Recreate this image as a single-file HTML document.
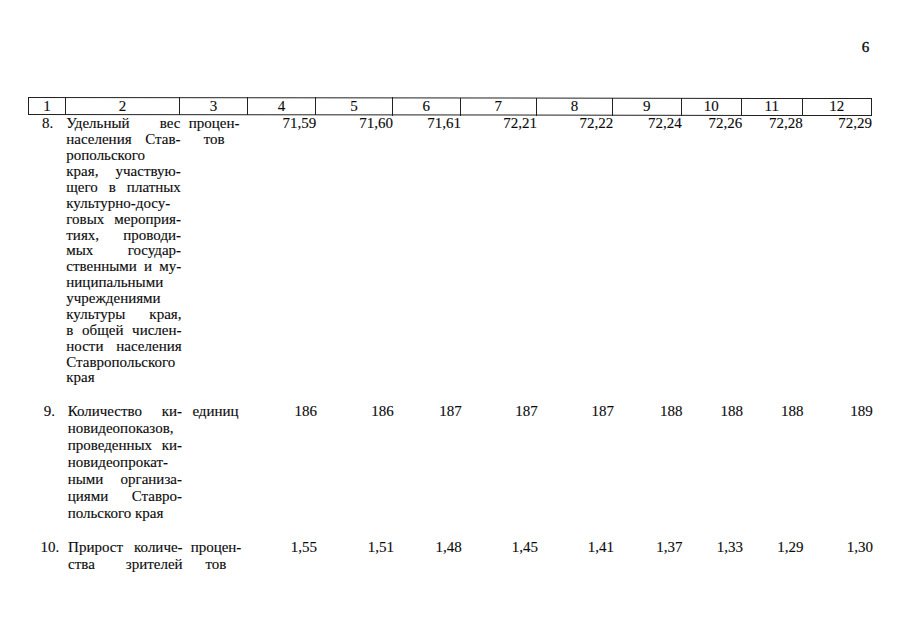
<!DOCTYPE html>
<html><head><meta charset="utf-8"><style>
html,body{margin:0;padding:0;background:#fff;}
body{width:900px;height:639px;position:relative;overflow:hidden;font-family:"Liberation Serif",serif;font-size:15px;color:#0a0a0a;-webkit-text-stroke:0.12px #0a0a0a;}
.a{position:absolute;white-space:nowrap;}
.pn{-webkit-text-stroke:0.35px #0a0a0a;}
.j{position:absolute;text-align:justify;text-align-last:justify;white-space:normal;}
.h{position:absolute;background:#222;}
</style></head><body>
<div class="a pn" style="left:861.8px;top:38.94px;line-height:16px">6</div>
<div class="h" style="left:28.2px;top:97.0px;width:843.7px;height:1.1px;transform-origin:0 0;transform:rotate(0.07deg)"></div>
<div class="h" style="left:28.2px;top:114.0px;width:843.7px;height:1.1px;transform-origin:0 0;transform:rotate(0.07deg)"></div>
<div class="h" style="left:28.2px;top:97.00px;width:1.1px;height:18.1px"></div>
<div class="h" style="left:64.8px;top:97.04px;width:1.1px;height:18.1px"></div>
<div class="h" style="left:179.0px;top:97.18px;width:1.1px;height:18.1px"></div>
<div class="h" style="left:247.0px;top:97.27px;width:1.1px;height:18.1px"></div>
<div class="h" style="left:315.1px;top:97.35px;width:1.1px;height:18.1px"></div>
<div class="h" style="left:391.9px;top:97.44px;width:1.1px;height:18.1px"></div>
<div class="h" style="left:459.8px;top:97.53px;width:1.1px;height:18.1px"></div>
<div class="h" style="left:535.9px;top:97.62px;width:1.1px;height:18.1px"></div>
<div class="h" style="left:612.0px;top:97.71px;width:1.1px;height:18.1px"></div>
<div class="h" style="left:680.5px;top:97.80px;width:1.1px;height:18.1px"></div>
<div class="h" style="left:741.0px;top:97.87px;width:1.1px;height:18.1px"></div>
<div class="h" style="left:801.5px;top:97.94px;width:1.1px;height:18.1px"></div>
<div class="h" style="left:870.9px;top:98.03px;width:1.1px;height:18.1px"></div>
<div class="a" style="left:17.00px;width:60px;text-align:center;top:98.14px;line-height:16px">1</div>
<div class="a" style="left:92.40px;width:60px;text-align:center;top:98.14px;line-height:16px">2</div>
<div class="a" style="left:183.50px;width:60px;text-align:center;top:98.14px;line-height:16px">3</div>
<div class="a" style="left:251.55px;width:60px;text-align:center;top:98.14px;line-height:16px">4</div>
<div class="a" style="left:324.00px;width:60px;text-align:center;top:98.14px;line-height:16px">5</div>
<div class="a" style="left:396.35px;width:60px;text-align:center;top:98.14px;line-height:16px">6</div>
<div class="a" style="left:468.35px;width:60px;text-align:center;top:98.14px;line-height:16px">7</div>
<div class="a" style="left:544.45px;width:60px;text-align:center;top:98.14px;line-height:16px">8</div>
<div class="a" style="left:616.75px;width:60px;text-align:center;top:98.14px;line-height:16px">9</div>
<div class="a" style="left:681.25px;width:60px;text-align:center;top:98.14px;line-height:16px">10</div>
<div class="a" style="left:741.75px;width:60px;text-align:center;top:98.14px;line-height:16px">11</div>
<div class="a" style="left:806.70px;width:60px;text-align:center;top:98.14px;line-height:16px">12</div>
<div class="a" style="left:41.90px;top:116.40px;line-height:15.88px">8.</div>
<div class="j" style="left:66.30px;width:114.20px;top:116.40px;line-height:15.88px">Удельный вес</div>
<div class="j" style="left:66.30px;width:114.28px;top:132.28px;line-height:15.88px">населения Став-</div>
<div class="j" style="left:66.30px;width:114.36px;top:148.16px;line-height:15.88px">ропольского</div>
<div class="j" style="left:66.30px;width:114.44px;top:164.04px;line-height:15.88px">края, участвую-</div>
<div class="j" style="left:66.30px;width:114.52px;top:179.92px;line-height:15.88px">щего в платных</div>
<div class="j" style="left:66.30px;width:114.60px;top:195.80px;line-height:15.88px">культурно-досу-</div>
<div class="j" style="left:66.30px;width:114.68px;top:211.68px;line-height:15.88px">говых мероприя-</div>
<div class="j" style="left:66.30px;width:114.76px;top:227.56px;line-height:15.88px">тиях, проводи-</div>
<div class="j" style="left:66.30px;width:114.84px;top:243.44px;line-height:15.88px">мых государ-</div>
<div class="j" style="left:66.30px;width:114.92px;top:259.32px;line-height:15.88px">ственными и му-</div>
<div class="j" style="left:66.30px;width:115.00px;top:275.20px;line-height:15.88px">ниципальными</div>
<div class="j" style="left:66.30px;width:115.08px;top:291.08px;line-height:15.88px">учреждениями</div>
<div class="j" style="left:66.30px;width:115.16px;top:306.96px;line-height:15.88px">культуры края,</div>
<div class="j" style="left:66.30px;width:115.24px;top:322.84px;line-height:15.88px">в общей числен-</div>
<div class="j" style="left:66.30px;width:115.32px;top:338.72px;line-height:15.88px">ности населения</div>
<div class="j" style="left:66.30px;width:115.40px;top:354.60px;line-height:15.88px">Ставропольского</div>
<div class="a" style="left:66.30px;top:370.48px;line-height:15.88px">края</div>
<div class="a" style="left:174.20px;width:80px;text-align:center;top:116.40px;line-height:15.88px">процен-</div>
<div class="a" style="left:174.20px;width:80px;text-align:center;top:132.28px;line-height:15.88px">тов</div>
<div class="a" style="left:236.30px;width:80px;text-align:right;top:116.40px;line-height:15.88px">71,59</div>
<div class="a" style="left:313.10px;width:80px;text-align:right;top:116.40px;line-height:15.88px">71,60</div>
<div class="a" style="left:381.00px;width:80px;text-align:right;top:116.40px;line-height:15.88px">71,61</div>
<div class="a" style="left:457.10px;width:80px;text-align:right;top:116.40px;line-height:15.88px">72,21</div>
<div class="a" style="left:533.20px;width:80px;text-align:right;top:116.40px;line-height:15.88px">72,22</div>
<div class="a" style="left:601.70px;width:80px;text-align:right;top:116.40px;line-height:15.88px">72,24</div>
<div class="a" style="left:662.20px;width:80px;text-align:right;top:116.40px;line-height:15.88px">72,26</div>
<div class="a" style="left:722.70px;width:80px;text-align:right;top:116.40px;line-height:15.88px">72,28</div>
<div class="a" style="left:792.10px;width:80px;text-align:right;top:116.40px;line-height:15.88px">72,29</div>
<div class="a" style="left:43.70px;top:402.54px;line-height:17.0px">9.</div>
<div class="j" style="left:67.70px;width:114.30px;top:402.54px;line-height:17.0px">Количество ки-</div>
<div class="j" style="left:67.70px;width:114.30px;top:419.54px;line-height:17.0px">новидеопоказов,</div>
<div class="j" style="left:67.70px;width:114.30px;top:436.54px;line-height:17.0px">проведенных ки-</div>
<div class="j" style="left:67.70px;width:114.30px;top:453.54px;line-height:17.0px">новидеопрокат-</div>
<div class="j" style="left:67.70px;width:114.30px;top:470.54px;line-height:17.0px">ными организа-</div>
<div class="j" style="left:67.70px;width:114.30px;top:487.54px;line-height:17.0px">циями Ставро-</div>
<div class="a" style="left:67.70px;top:504.54px;line-height:17.0px">польского края</div>
<div class="a" style="left:175.50px;width:80px;text-align:center;top:402.54px;line-height:17.0px">единиц</div>
<div class="a" style="left:237.00px;width:80px;text-align:right;top:402.54px;line-height:17.0px">186</div>
<div class="a" style="left:313.80px;width:80px;text-align:right;top:402.54px;line-height:17.0px">186</div>
<div class="a" style="left:381.70px;width:80px;text-align:right;top:402.54px;line-height:17.0px">187</div>
<div class="a" style="left:457.80px;width:80px;text-align:right;top:402.54px;line-height:17.0px">187</div>
<div class="a" style="left:533.90px;width:80px;text-align:right;top:402.54px;line-height:17.0px">187</div>
<div class="a" style="left:602.40px;width:80px;text-align:right;top:402.54px;line-height:17.0px">188</div>
<div class="a" style="left:662.90px;width:80px;text-align:right;top:402.54px;line-height:17.0px">188</div>
<div class="a" style="left:723.40px;width:80px;text-align:right;top:402.54px;line-height:17.0px">188</div>
<div class="a" style="left:792.80px;width:80px;text-align:right;top:402.54px;line-height:17.0px">189</div>
<div class="a" style="left:40.40px;top:539.39px;line-height:16.5px">10.</div>
<div class="j" style="left:68.10px;width:114.50px;top:539.39px;line-height:16.5px">Прирост количе-</div>
<div class="j" style="left:68.10px;width:114.50px;top:555.89px;line-height:16.5px">ства зрителей</div>
<div class="a" style="left:176.00px;width:80px;text-align:center;top:539.39px;line-height:16.5px">процен-</div>
<div class="a" style="left:176.00px;width:80px;text-align:center;top:555.89px;line-height:16.5px">тов</div>
<div class="a" style="left:237.10px;width:80px;text-align:right;top:539.39px;line-height:16.5px">1,55</div>
<div class="a" style="left:313.90px;width:80px;text-align:right;top:539.39px;line-height:16.5px">1,51</div>
<div class="a" style="left:381.80px;width:80px;text-align:right;top:539.39px;line-height:16.5px">1,48</div>
<div class="a" style="left:457.90px;width:80px;text-align:right;top:539.39px;line-height:16.5px">1,45</div>
<div class="a" style="left:534.00px;width:80px;text-align:right;top:539.39px;line-height:16.5px">1,41</div>
<div class="a" style="left:602.50px;width:80px;text-align:right;top:539.39px;line-height:16.5px">1,37</div>
<div class="a" style="left:663.00px;width:80px;text-align:right;top:539.39px;line-height:16.5px">1,33</div>
<div class="a" style="left:723.50px;width:80px;text-align:right;top:539.39px;line-height:16.5px">1,29</div>
<div class="a" style="left:792.90px;width:80px;text-align:right;top:539.39px;line-height:16.5px">1,30</div>
</body></html>
